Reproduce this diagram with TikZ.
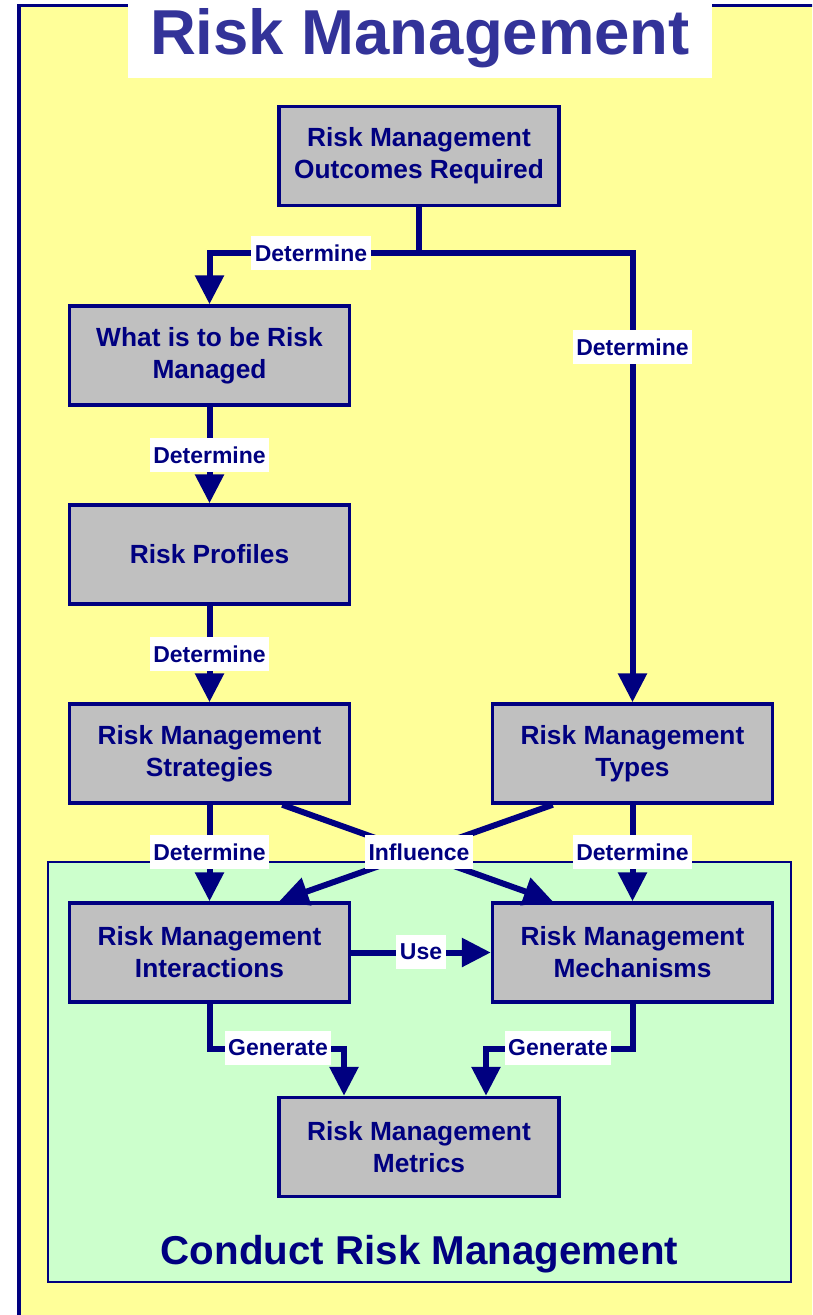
\documentclass[tikz,border=0pt]{standalone}
\usepackage{fontspec}
\setmainfont{Liberation Sans}
\usetikzlibrary{arrows.meta}
\definecolor{navy}{HTML}{000080}
\definecolor{titleblue}{HTML}{333399}
\definecolor{bgyellow}{HTML}{FFFF99}
\definecolor{bggreen}{HTML}{CCFFCC}
\definecolor{boxgray}{HTML}{C0C0C0}
\begin{document}
\begin{tikzpicture}[x=1pt,y=-1pt,
  box/.style={draw=navy, line width=3.5pt, fill=boxgray, minimum width=280pt, minimum height=99pt, align=center, font=\fontsize{26.3}{32}\selectfont\bfseries, text=navy, inner sep=0pt},
  lbl/.style={fill=white, text=navy, font=\fontsize{23}{27}\selectfont\bfseries, inner xsep=3.5pt, inner ysep=0pt, minimum height=34pt},
  seg/.style={draw=navy, line width=6pt, line join=miter},
  conn/.style={seg, -{Triangle[length=29pt,width=28pt]}}]
\useasboundingbox (0,0) rectangle (812,1315);
\clip (0,0) rectangle (812,1315);
% backgrounds
\draw[navy, line width=3.5pt, fill=bgyellow] (19,5.5) rectangle (850,1350);
\fill[white] (128,-5) rectangle (712,78);
\node[anchor=base, text=titleblue, font=\fontsize{63.5}{70}\selectfont\bfseries] (title) at (420,54) {Risk Management};
\draw[navy, line width=2.5pt, fill=bggreen] (48,862) rectangle (791,1282);
\node[anchor=base, text=navy, font=\fontsize{40.3}{44}\selectfont\bfseries] (conduct) at (419.5,1264) {Conduct Risk Management};
% boxes
\node[box] (b1) at (419,156) {Risk Management\\Outcomes Required};
\node[box] (b2) at (209.5,355.5) {What is to be Risk\\Managed};
\node[box] (b3) at (209.5,554.5) {Risk Profiles};
\node[box] (b4) at (209.5,753.5) {Risk Management\\Strategies};
\node[box] (b5) at (632.5,753.5) {Risk Management\\Types};
\node[box] (b6) at (209.5,952.5) {Risk Management\\Interactions};
\node[box] (b7) at (632.5,952.5) {Risk Management\\Mechanisms};
\node[box] (b8) at (419,1147) {Risk Management\\Metrics};
% connectors
\coordinate (j1) at (419,253);
\draw[seg] (b1.south) -- (j1);
\draw[conn] (j1) -| (b2.north);
\draw[conn] (j1) -| (b5.north);
\draw[conn] (b2.south) -- (b3.north);
\draw[conn] (b3.south) -- (b4.north);
\draw[conn] (b4.south) -- (b6.north);
\draw[conn] (b5.south) -- (b7.north);
\draw[conn] ([xshift=-69pt]b4.south east) -- ([xshift=62pt]b7.north west);
\draw[conn] ([xshift=62pt]b5.south west) -- ([xshift=-72pt]b6.north east);
\draw[conn] (b6.east) -- (b7.west);
\draw[conn] (b6.south) -- ++(0,45) -| ([xshift=-75pt]b8.north);
\draw[conn] (b7.south) -- ++(0,45) -| ([xshift=67pt]b8.north);
% labels
\node[lbl] (l1) at (311,253) {Determine};
\node[lbl] (l2) at (632.5,347) {Determine};
\node[lbl] (l3) at (209.5,455) {Determine};
\node[lbl] (l4) at (209.5,654) {Determine};
\node[lbl] (l5) at (209.5,852) {Determine};
\node[lbl] (l6) at (419,852) {Influence};
\node[lbl] (l7) at (632.5,852) {Determine};
\node[lbl] (l8) at (421,952) {Use};
\node[lbl] (l9) at (278,1048) {Generate};
\node[lbl] (l10) at (558,1048) {Generate};
\end{tikzpicture}
\end{document}
